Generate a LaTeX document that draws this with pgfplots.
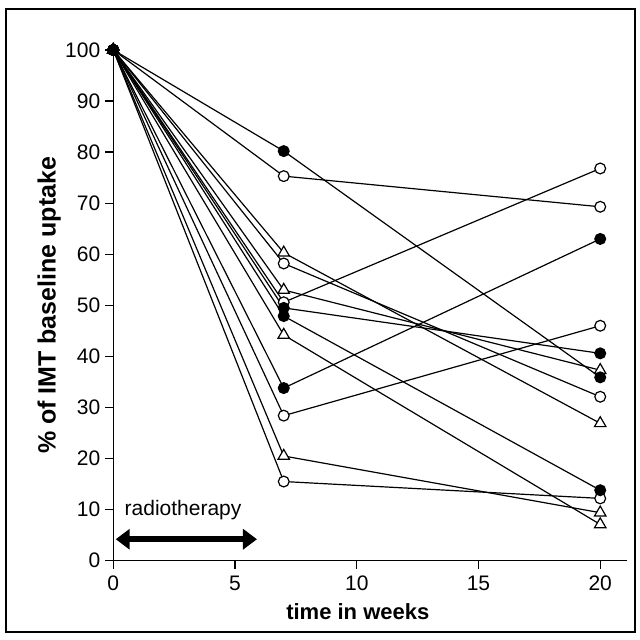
\documentclass[border=0pt]{standalone}
\usepackage{fontspec}
\setmainfont{Liberation Sans}
\usepackage{pgfplots}
\pgfplotsset{compat=1.18}
\usetikzlibrary{arrows.meta}

\begin{document}
\begin{tikzpicture}
\begin{axis}[
  scale only axis, width=256.85pt, height=255.35pt,
  xmin=0, xmax=21.1, ymin=0, ymax=100,
  axis lines=left, axis line style={line width=0.7pt,-},
  xtick={0,5,10,15,20}, ytick={0,10,...,100},
  tick align=outside, major tick length=4pt,
  tick style={line width=0.7pt,black},
  tick label style={font=\fontsize{10.5}{12}\selectfont},
  /pgf/number format/assume math mode=true,
  yticklabel style={xshift=1pt},
  xlabel={time in weeks}, ylabel={\% of IMT baseline uptake},
  xlabel style={font=\fontsize{11}{12}\selectfont\bfseries,
    at={(rel axis cs:0.476,-0.1)}, anchor=center},
  ylabel style={font=\fontsize{12.5}{14}\selectfont\bfseries,
    at={(rel axis cs:-0.125,0.5)}, anchor=center},
  clip=false,
  every axis plot/.append style={black, line width=0.6pt},
  open/.style={mark=*, mark size=2.7pt, mark options={fill=white, line width=0.6pt}},
  full/.style={mark=*, mark size=2.7pt, mark options={fill=black, line width=0.6pt}},
  tri/.style={mark=triangle*, mark size=3.3pt, mark options={fill=white, line width=0.6pt}},
]
% open circles
\addplot[open] coordinates {(0,100) (7,75.3) (20,69.3)};
\addplot[open] coordinates {(0,100) (7,58.2) (20,32.1)};
\addplot[open] coordinates {(0,100) (7,50.6) (20,76.8)};
\addplot[open] coordinates {(0,100) (7,28.4) (20,46.0)};
\addplot[open] coordinates {(0,100) (7,15.5) (20,12.2)};
% triangles
\addplot[tri] coordinates {(0,100) (7,60.3) (20,26.9)};
\addplot[tri] coordinates {(0,100) (7,53.0) (20,37.3)};
\addplot[tri] coordinates {(0,100) (7,44.2) (20,7.1)};
\addplot[tri] coordinates {(0,100) (7,20.5) (20,9.4)};
% filled circles
\addplot[full] coordinates {(0,100) (7,80.2) (20,35.9)};
\addplot[full] coordinates {(0,100) (7,49.5) (20,40.6)};
\addplot[full] coordinates {(0,100) (7,47.9) (20,13.8)};
\addplot[full] coordinates {(0,100) (7,33.8) (20,63.0)};

% radiotherapy period
\draw[line width=2.8pt, {Triangle[length=7pt,width=10pt]}-{Triangle[length=7pt,width=10pt]}]
  (axis cs:0.1,4.2) -- (axis cs:5.9,4.2);
\node[anchor=base west, inner sep=0pt, font=\fontsize{10.5}{12}\selectfont]
  at (axis cs:0.45,8.9) {radiotherapy};

% outer frame
\path (rel axis cs:-0.2206,-0.1553) rectangle (rel axis cs:1.0252,1.0979);
\draw[line width=1.3pt] (rel axis cs:-0.2089,-0.1396) rectangle (rel axis cs:1.0156,1.0806);
\end{axis}
\end{tikzpicture}
\end{document}
